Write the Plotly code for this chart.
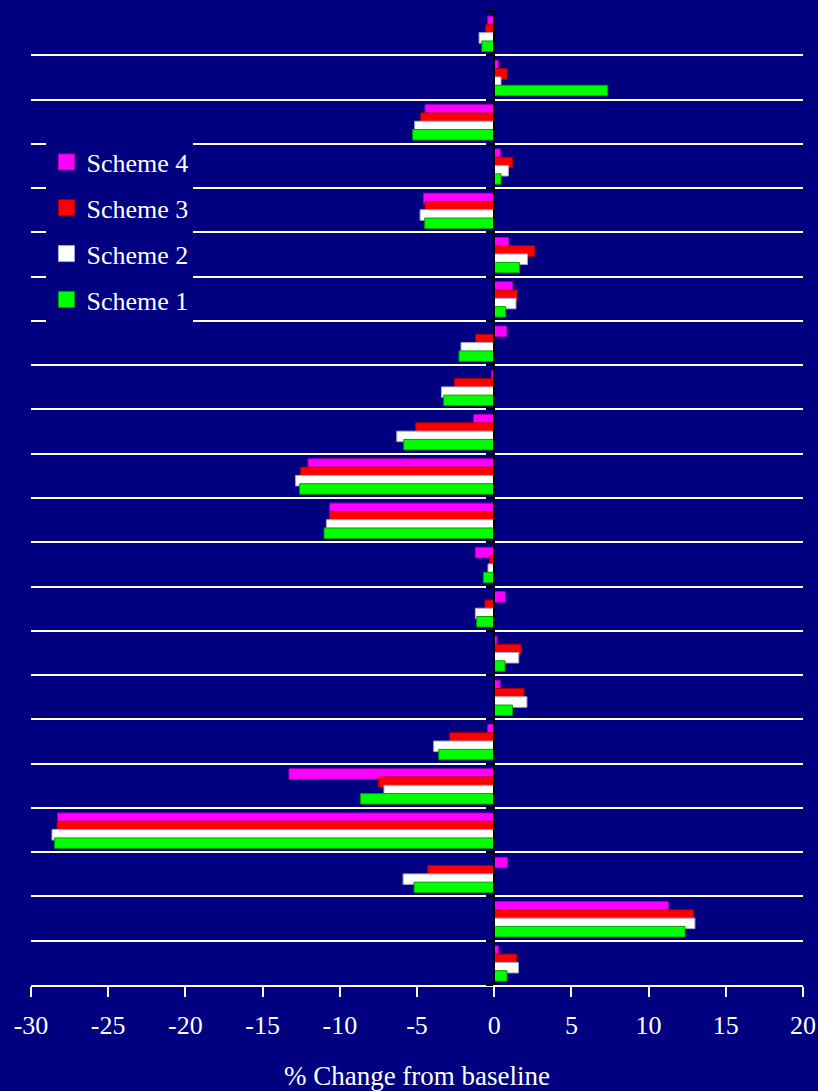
import plotly.graph_objects as go

# Rows from top to bottom (22 groups), values are % change from baseline
rows = list(range(1, 23))

scheme_4 = [-0.42, 0.27, -4.48, 0.40, -4.57, 0.94, 1.20, 0.81, -0.16, -1.33, -12.06,
            -10.65, -1.22, 0.72, 0.18, 0.38, -0.42, -13.29, -28.27, 0.85, 11.28, 0.27]
scheme_3 = [-0.55, 0.83, -4.76, 1.18, -4.48, 2.62, 1.50, -1.20, -2.56, -5.08, -12.53,
            -10.67, -0.29, -0.60, 1.74, 1.93, -2.88, -7.48, -28.31, -4.30, 12.92, 1.46]
scheme_2 = [-0.98, 0.44, -5.15, 0.92, -4.80, 2.15, 1.41, -2.15, -3.42, -6.31, -12.86,
            -10.87, -0.40, -1.22, 1.59, 2.12, -3.92, -7.14, -28.64, -5.90, 13.00, 1.57]
scheme_1 = [-0.80, 7.35, -5.28, 0.44, -4.50, 1.63, 0.74, -2.28, -3.27, -5.86, -12.60,
            -11.02, -0.70, -1.13, 0.70, 1.18, -3.59, -8.65, -28.47, -5.19, 12.36, 0.83]

x_ticks = [-30, -25, -20, -15, -10, -5, 0, 5, 10, 15, 20]
x_tick_labels = ["-30", "-25", "-20", "-15", "-10", "-5", "0", "5", "10", "15", "20"]

NAVY = "#000080"
FONT = "Liberation Serif"

# name, values, fill, edge, offset within the row
series = [
    ("Scheme 4", scheme_4, "#FF00FF", "#b000b0", -0.384),
    ("Scheme 3", scheme_3, "#FF0000", "#b00000", -0.197),
    ("Scheme 2", scheme_2, "#FFFFFF", "#a8a8c8", -0.010),
    ("Scheme 1", scheme_1, "#00FF00", "#00a000", 0.177),
]

fig = go.Figure()
for name, vals, fill, edge, off in series:
    fig.add_trace(go.Bar(
        x=vals, y=rows, orientation="h", name=name,
        width=0.237, offset=off,
        marker=dict(color=fill, line=dict(color=edge, width=1)),
        legendgroup=name, showlegend=False,
    ))
    # legend swatch: larger square marker than the default bar swatch
    fig.add_trace(go.Scatter(
        x=[None], y=[None], mode="markers", name=name,
        marker=dict(symbol="square", size=16, color=fill,
                    line=dict(color=edge, width=1)),
        legendgroup=name, showlegend=True,
    ))

boundaries = [r + 0.5 for r in rows[:-1]]

fig.update_layout(
    width=818, height=1091,
    margin=dict(l=31, r=15, t=11, b=106),
    paper_bgcolor=NAVY, plot_bgcolor=NAVY,
    barmode="overlay",
    font=dict(family=FONT, color="white"),
    showlegend=True,
    legend=dict(
        x=0.020, y=0.869, xanchor="left", yanchor="top",
        bgcolor=NAVY, borderwidth=0,
        font=dict(family=FONT, size=26, color="white"),
        traceorder="grouped", tracegroupgap=9,
        itemsizing="trace", itemwidth=30,
    ),
    xaxis=dict(
        range=[-30, 20], tickvals=x_ticks, ticktext=x_tick_labels,
        automargin=False,
        ticks="outside", ticklen=10, tickwidth=2, tickcolor="white",
        ticklabelstandoff=6,
        showline=True, linecolor="white", linewidth=2,
        showgrid=False, zeroline=False,
        tickfont=dict(family=FONT, size=26, color="white"),
        title=dict(text="% Change from baseline",
                   font=dict(family=FONT, size=27, color="white"),
                   standoff=27),
    ),
    yaxis=dict(
        range=[22.5, 0.5],
        anchor="free", position=0.6, side="left", automargin=False,
        tickvals=boundaries, showticklabels=False,
        ticks="outside", ticklen=7, tickwidth=2, tickcolor="black",
        showgrid=True, gridcolor="white", gridwidth=1.5,
        showline=True, linecolor="black", linewidth=2,
        zeroline=False,
        minor=dict(tickvals=[0.5, 22.5], ticks="outside", ticklen=7,
                   tickwidth=2, tickcolor="black", showgrid=False),
    ),
)

fig.write_html("out.html")
